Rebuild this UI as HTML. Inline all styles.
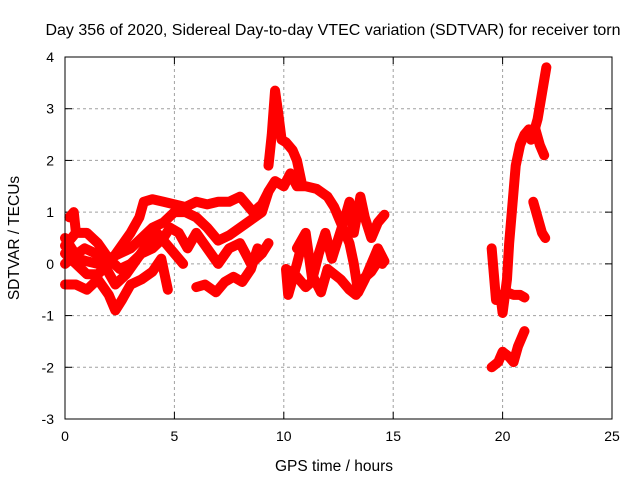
<!DOCTYPE html>
<html><head><meta charset="utf-8"><style>
body{margin:0;background:#fff}
svg{display:block;font-family:"Liberation Sans",sans-serif}
</style></head><body>
<svg id="chart" width="640" height="480" viewBox="0 0 640 480">
<text x="333" y="35" font-size="16" text-anchor="middle">Day 356 of 2020, Sidereal Day-to-day VTEC variation (SDTVAR) for receiver torn</text>
<g id="grid"></g>
<g id="ticks"></g>
<g id="marks"></g>
<rect x="65" y="57" width="547" height="362" fill="none" stroke="#000" stroke-width="1"/>
<text transform="translate(19,238) rotate(-90)" font-size="15.5" text-anchor="middle">SDTVAR / TECUs</text>
<text x="334" y="471" font-size="15.5" text-anchor="middle">GPS time / hours</text>
</svg>
<script>
const xTicks=[0,5,10,15,20,25];
const yTicks=[-3,-2,-1,0,1,2,3,4];
const track1=[[0,0.5],[0.3,0.3],[0.6,0.1],[1,0.05],[1.5,0],[2,0.1],[2.5,0.2],[3,0.3],[3.5,0.5],[4,0.7],[4.5,0.8],[5,1.0],[5.5,1.0],[6,0.9],[6.5,0.7],[7,0.45],[7.5,0.55],[8,0.7],[8.5,0.85],[9,1.0],[9.3,1.4],[9.6,1.6],[10,1.5],[10.3,1.75],[10.6,1.5],[11,1.5],[11.5,1.45],[12,1.3],[12.3,1.1],[12.6,0.8],[13,0.4],[13.2,0.0],[13.4,-0.55],[13.7,-0.3],[14,0.0],[14.3,0.3],[14.6,0.05]];
const track2=[[0,0.2],[0.5,0],[1,-0.2],[1.5,-0.2],[2,0],[2.5,0.3],[3,0.6],[3.4,0.9],[3.6,1.2],[4,1.25],[4.5,1.2],[5,1.15],[5.5,1.1],[6,1.2],[6.5,1.15],[7,1.2],[7.5,1.2],[8,1.3],[8.3,1.15],[8.6,1.0],[9,1.15],[9.3,1.4]];
const track3=[[0,0.35],[0.5,0.6],[1,0.6],[1.5,0.4],[2,0.1],[2.5,-0.1],[3,0],[3.5,0.2],[4,0.3],[4.5,0.5],[4.8,0.7],[5.2,0.6],[5.6,0.3],[6,0.6],[6.5,0.3],[7,0.0],[7.5,0.3],[8,0.4],[8.5,0.0],[9,0.2],[9.3,0.4]];
const track4=[[0,-0.4],[0.5,-0.4],[1,-0.5],[1.5,-0.3],[2,-0.6],[2.3,-0.9],[2.6,-0.7],[3,-0.4],[3.5,-0.3],[4,-0.15],[4.4,0.1],[4.7,-0.5]];
const track5=[[6,-0.45],[6.4,-0.4],[6.9,-0.55],[7.3,-0.35],[7.7,-0.25],[8.1,-0.35],[8.5,-0.1],[8.8,0.3]];
const track6=[[10.9,0.5],[10.6,0.0],[10.4,-0.3],[10.2,-0.6],[10.1,-0.1],[10.5,-0.2],[11,-0.45],[11.4,-0.3],[11.7,-0.55],[12,-0.1],[12.3,-0.2],[12.6,-0.3],[13,-0.5],[13.3,-0.6],[13.6,-0.3],[14,-0.15],[14.3,0.05],[14.5,0.0]];
const track7=[[10.6,0.3],[11,0.6],[11.3,-0.3],[11.6,0.2],[11.9,0.6],[12.2,0.1],[12.5,0.5],[12.8,0.9],[13,1.2],[13.2,0.6],[13.5,1.3],[13.7,0.9],[14,0.5],[14.3,0.8],[14.6,0.95]];
const track8=[[9.3,1.9],[9.45,2.5],[9.6,3.35],[9.75,2.9],[9.9,2.4],[10.1,2.35],[10.4,2.2],[10.6,2.0],[10.8,1.6]];
const track9=[[19.5,0.3],[19.6,-0.2],[19.7,-0.7],[19.9,-0.6],[20,-0.95],[20.2,-0.3],[20.3,0.4],[20.4,0.9],[20.5,1.4],[20.6,1.9],[20.8,2.3],[21,2.5],[21.2,2.6],[21.4,2.5],[21.6,2.8],[21.8,3.3],[22,3.8]];
const track10=[[20.2,-0.55],[20.5,-0.6],[20.8,-0.6],[21,-0.65]];
const track11=[[21.4,1.2],[21.6,0.9],[21.8,0.6],[21.95,0.5]];
const track12=[[19.5,-2.0],[19.8,-1.9],[20,-1.7],[20.3,-1.8],[20.5,-1.9],[20.7,-1.6],[21,-1.3]];
const track13=[[21.3,2.4],[21.5,2.6],[21.7,2.3],[21.9,2.1]];
const track14=[[0,0.0],[0.4,0.15],[0.9,0.3],[1.4,0.2],[1.9,-0.1],[2.3,-0.4],[2.8,-0.2],[3.3,0.1],[3.8,0.4],[4.2,0.6],[4.6,0.4],[5,0.2],[5.4,0.0]];
const track15=[[0.2,0.9],[0.4,1.0],[0.5,0.6]];
const tracks=[track1,track2,track3,track4,track5,track6,track7,track8,track9,track10,track11,track12,track13,track14,track15];

const X=h=>65+h*547/25;
const Y=v=>57+(4-v)*362/7;
const NS="http://www.w3.org/2000/svg";
const grid=document.getElementById('grid'),ticks=document.getElementById('ticks'),marks=document.getElementById('marks');
function mk(tag,attrs,parent){const e=document.createElementNS(NS,tag);for(const k in attrs)e.setAttribute(k,attrs[k]);parent.appendChild(e);return e;}
xTicks.forEach(t=>{
  const x=X(t);
  if(t>0&&t<25){const g=mk('line',{x1:x,y1:57,x2:x,y2:419,stroke:'#a0a0a0','stroke-dasharray':'3,3'},grid);
  
  }
  mk('line',{x1:x,y1:419,x2:x,y2:412,stroke:'#000'},ticks);
  mk('line',{x1:x,y1:57,x2:x,y2:64,stroke:'#000'},ticks);
  const l=mk('text',{x:x,y:441,'font-size':14,'text-anchor':'middle'},ticks);l.textContent=t;
  
  
});
yTicks.forEach(t=>{
  const y=Y(t);
  if(t>-3&&t<4){const g=mk('line',{x1:65,y1:y,x2:612,y2:y,stroke:'#a0a0a0','stroke-dasharray':'3,3'},grid);
  
  }
  mk('line',{x1:65,y1:y,x2:72,y2:y,stroke:'#000'},ticks);
  mk('line',{x1:612,y1:y,x2:605,y2:y,stroke:'#000'},ticks);
  const l=mk('text',{x:54,y:y+5,'font-size':14,'text-anchor':'end'},ticks);l.textContent=t;
  
  
});
tracks.forEach(tr=>{
  const pl=mk('polyline',{points:tr.map(p=>X(p[0])+','+Y(p[1])).join(' '),fill:'none',stroke:'#f00','stroke-width':10,'stroke-linejoin':'round','stroke-linecap':'round'},marks);
  
  
  tr.forEach(p=>{
    const x=X(p[0]),y=Y(p[1]);
    const m=mk('path',{d:`M${x-4},${y}H${x+4}M${x},${y-4}V${y+4}`,stroke:'#f00','stroke-width':1.5},marks);
    
    
  });
});
</script>
</body></html>
